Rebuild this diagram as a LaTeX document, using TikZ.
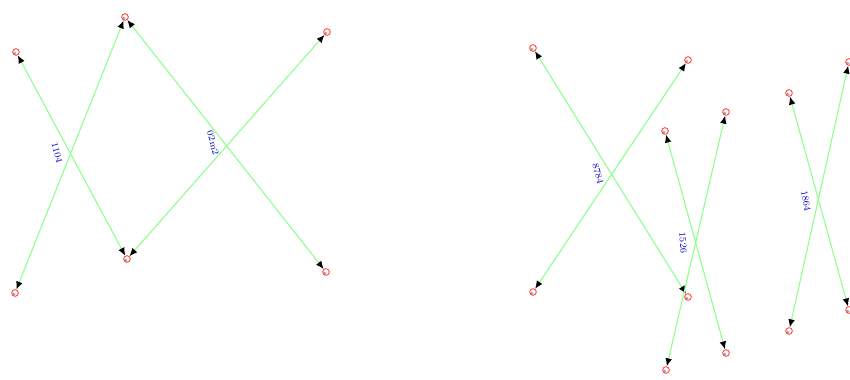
\documentclass[tikz,border=0pt]{standalone}
\usetikzlibrary{arrows.meta}
\begin{document}
\begin{tikzpicture}[x=0.75pt,y=-0.75pt,
  endmark/.style={circle,draw=red!80,line width=0.6pt,fill=white,inner sep=0pt,minimum size=5pt,
    path picture={\fill[gray!70] (path picture bounding box.center)++(-1pt,-1pt) circle (1.3pt);}},
  link/.style={draw=green!45!white,line width=0.8pt,{Latex[color=black,length=6pt,width=5pt]}-{Latex[color=black,length=6pt,width=5pt]}},
  lbl/.style={text=blue!80!black,font=\scriptsize,inner sep=0pt}]
\useasboundingbox (0,0) rectangle (850,379);
% left group
\node[endmark] (A) at (16,52) {};
\node[endmark] (B) at (125,17) {};
\node[endmark] (C) at (15,293) {};
\node[endmark] (D) at (127,259) {};
\node[endmark] (E) at (327,32) {};
\node[endmark] (F) at (326,272) {};
% right group
\node[endmark] (G) at (533,48) {};
\node[endmark] (H) at (688,60) {};
\node[endmark] (I) at (533,292) {};
\node[endmark] (J) at (688,297) {};
\node[endmark] (K) at (665,131) {};
\node[endmark] (L) at (726,112) {};
\node[endmark] (M) at (666,370) {};
\node[endmark] (N) at (726,353) {};
\node[endmark] (O) at (789,93) {};
\node[endmark] (P) at (849,62) {};
\node[endmark] (Q) at (789,331) {};
\node[endmark] (R) at (849,310) {};
% connectors
\draw[link] (A) -- (D);
\draw[link] (C) -- (B);
\draw[link] (B) -- (F);
\draw[link] (D) -- (E);
\draw[link] (G) -- (J);
\draw[link] (I) -- (H);
\draw[link] (K) -- (N);
\draw[link] (M) -- (L);
\draw[link] (O) -- (R);
\draw[link] (Q) -- (P);
% labels
\node[lbl,rotate=-75] (l1) at (57,153) {1104};
\node[lbl,rotate=-75] (l2) at (213,143) {02m2};
\node[lbl,rotate=-75] (l3) at (598,174) {8784};
\node[lbl,rotate=-85] (l4) at (683,243) {1526};
\node[lbl,rotate=-80] (l5) at (806,201) {1864};
\end{tikzpicture}
\end{document}
